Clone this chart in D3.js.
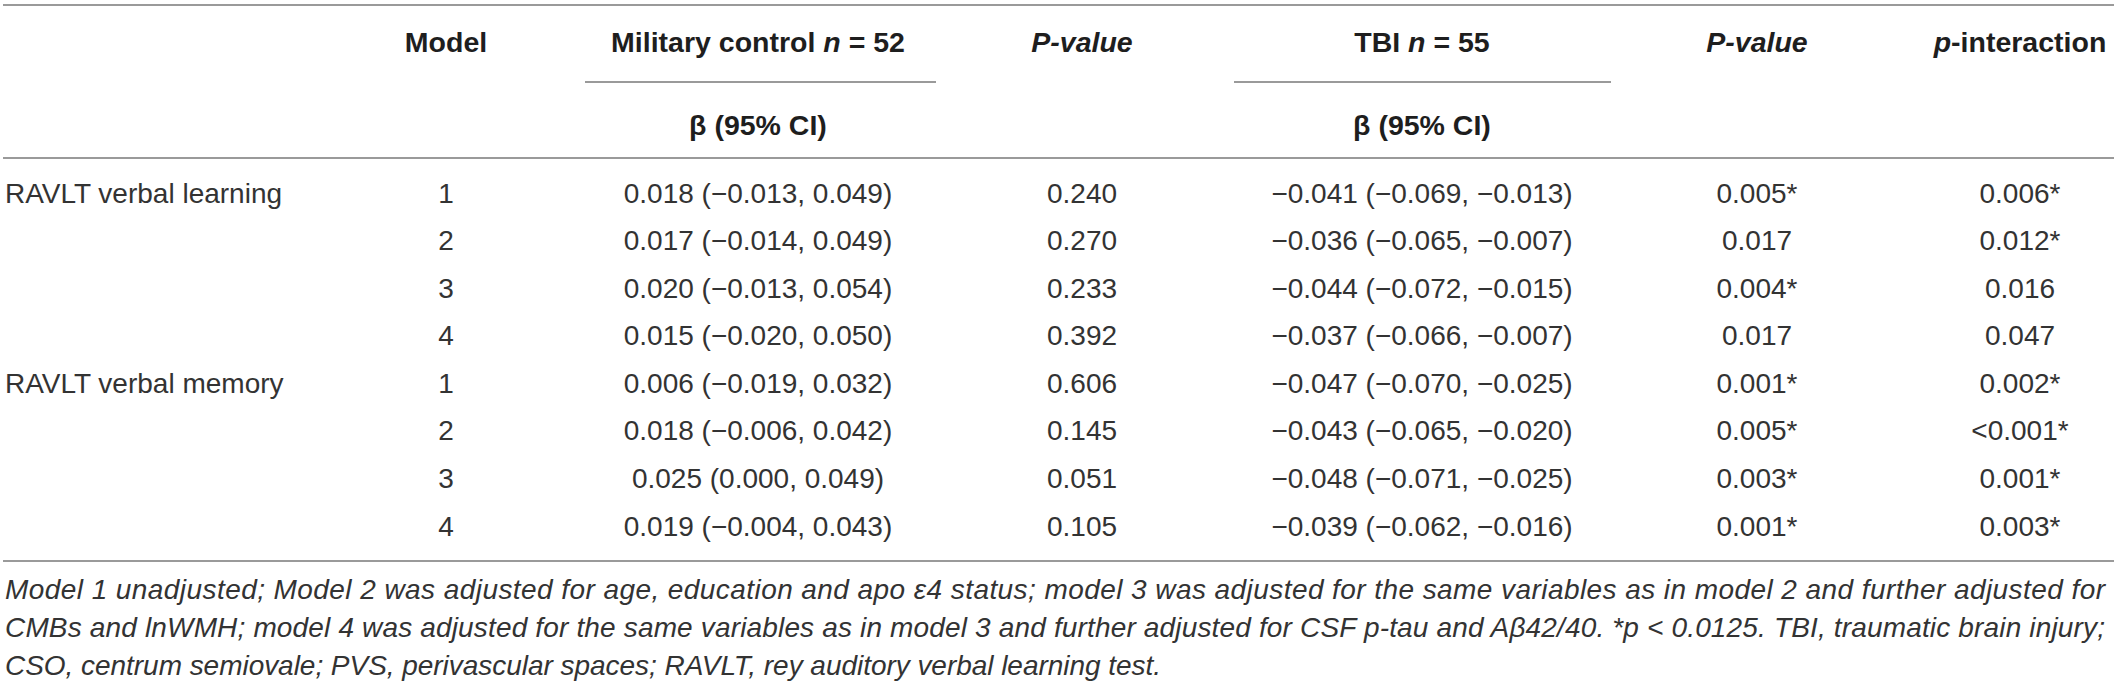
<!DOCTYPE html>
<html>
<head>
<meta charset="utf-8">
<script src="https://cdn.jsdelivr.net/npm/d3@7"></script>
<style>
  body { margin: 0; background: #fff; }
  svg text { font-family: "Liberation Sans", Arial, sans-serif; }
</style>
</head>
<body>
<div id="table"></div>
<script>
// table data
var outcomes = ["RAVLT verbal learning", "", "", "", "RAVLT verbal memory", "", "", ""];
var models = ["1", "2", "3", "4", "1", "2", "3", "4"];
var mcBeta = ["0.018 (\u22120.013, 0.049)", "0.017 (\u22120.014, 0.049)", "0.020 (\u22120.013, 0.054)", "0.015 (\u22120.020, 0.050)",
              "0.006 (\u22120.019, 0.032)", "0.018 (\u22120.006, 0.042)", "0.025 (0.000, 0.049)", "0.019 (\u22120.004, 0.043)"];
var mcP = ["0.240", "0.270", "0.233", "0.392", "0.606", "0.145", "0.051", "0.105"];
var tbiBeta = ["\u22120.041 (\u22120.069, \u22120.013)", "\u22120.036 (\u22120.065, \u22120.007)", "\u22120.044 (\u22120.072, \u22120.015)", "\u22120.037 (\u22120.066, \u22120.007)",
               "\u22120.047 (\u22120.070, \u22120.025)", "\u22120.043 (\u22120.065, \u22120.020)", "\u22120.048 (\u22120.071, \u22120.025)", "\u22120.039 (\u22120.062, \u22120.016)"];
var tbiP = ["0.005*", "0.017", "0.004*", "0.017", "0.001*", "0.005*", "0.003*", "0.001*"];
var pInteraction = ["0.006*", "0.012*", "0.016", "0.047", "0.002*", "<0.001*", "0.001*", "0.003*"];

var footnote = [
  "Model 1 unadjusted; Model 2 was adjusted for age, education and apo \u03b54 status; model 3 was adjusted for the same variables as in model 2 and further adjusted for",
  "CMBs and lnWMH; model 4 was adjusted for the same variables as in model 3 and further adjusted for CSF p-tau and A\u03b242/40. *p < 0.0125. TBI, traumatic brain injury;",
  "CSO, centrum semiovale; PVS, perivascular spaces; RAVLT, rey auditory verbal learning test."
];

var width = 2118, height = 684;
var fontSize = 28;
var ruleColor = "#9a9a9a", textColor = "#333";

var svg = d3.select("#table").append("svg")
    .attr("width", width)
    .attr("height", height);

// column centres
var cols = ["model", "mc", "mcP", "tbi", "tbiP", "pint"];
var x = d3.scaleOrdinal()
    .domain(cols)
    .range([446, 758, 1082, 1422, 1757, 2020]);

// data rows
var y = d3.scalePoint()
    .domain(d3.range(models.length))
    .range([193, 526]);

// rules
function rule(x1, x2, yy) {
  svg.append("line")
    .attr("x1", x1).attr("x2", x2)
    .attr("y1", yy).attr("y2", yy)
    .attr("stroke", ruleColor)
    .attr("stroke-width", 2);
}
rule(3, 2114, 5);
rule(585, 936, 82);
rule(1234, 1611, 82);
rule(3, 2114, 158);
rule(3, 2114, 561);

// header
var head = svg.append("g")
    .attr("font-size", 28.5)
    .attr("font-weight", "bold")
    .attr("fill", "#1e1e1e")
    .attr("text-anchor", "middle")
    .attr("dominant-baseline", "central");

function header(col, yy, parts) {
  var t = head.append("text").attr("x", x(col)).attr("y", yy);
  parts.forEach(function(p) {
    t.append("tspan")
      .attr("font-style", p[1] ? "italic" : null)
      .text(p[0]);
  });
}
header("model", 42, [["Model"]]);
header("mc", 42, [["Military control "], ["n", 1], [" = 52"]]);
header("mcP", 42, [["P-value", 1]]);
header("tbi", 42, [["TBI "], ["n", 1], [" = 55"]]);
header("tbiP", 42, [["P-value", 1]]);
header("pint", 42, [["p", 1], ["-interaction"]]);
header("mc", 125, [["\u03b2 (95% CI)"]]);
header("tbi", 125, [["\u03b2 (95% CI)"]]);

// body
var body = svg.append("g")
    .attr("font-size", fontSize)
    .attr("fill", textColor)
    .attr("dominant-baseline", "central");

var rows = body.selectAll(".row")
    .data(d3.range(models.length))
    .enter().append("g")
    .attr("class", "row")
    .attr("transform", function(i) { return "translate(0," + y(i) + ")"; });

rows.append("text")
    .attr("x", 5)
    .text(function(i) { return outcomes[i]; });

var colData = [["model", models], ["mc", mcBeta], ["mcP", mcP], ["tbi", tbiBeta], ["tbiP", tbiP], ["pint", pInteraction]];
colData.forEach(function(c) {
  rows.append("text")
    .attr("x", x(c[0]))
    .attr("text-anchor", "middle")
    .text(function(i) { return c[1][i]; });
});

// footnote, first two lines justified
var note = svg.append("g")
    .attr("font-size", fontSize)
    .attr("font-style", "italic")
    .attr("fill", textColor)
    .attr("dominant-baseline", "central");

var noteY = [589, 627, 665];
var noteLen = [2100, 2100, 1156];
note.selectAll("text")
    .data(footnote)
    .enter().append("text")
    .attr("x", 5)
    .attr("y", function(d, i) { return noteY[i]; })
    .attr("textLength", function(d, i) { return noteLen[i]; })
    .attr("lengthAdjust", "spacing")
    .text(function(d) { return d; });
</script>
</body>
</html>
